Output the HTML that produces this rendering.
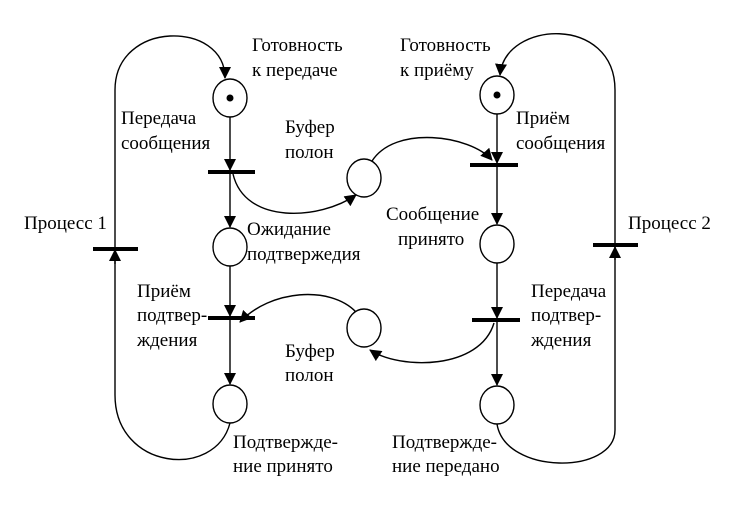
<!DOCTYPE html>
<html><head><meta charset="utf-8"><style>
html,body{margin:0;padding:0;background:#fff;}
svg{display:block}
text{font-family:"Liberation Serif","DejaVu Serif",serif;font-size:19px;fill:#000}
</style></head><body>
<svg width="744" height="519" viewBox="0 0 744 519">
<defs>
<marker id="a" markerWidth="12" markerHeight="12" refX="11" refY="6" orient="auto" markerUnits="userSpaceOnUse"><path d="M0,0 L12,6 L0,12 Z" fill="#000"/></marker>
</defs>
<g fill="none" stroke="#000" stroke-width="1.4">
<ellipse cx="230" cy="98" rx="17" ry="19"/>
<ellipse cx="230" cy="247" rx="17" ry="19"/>
<ellipse cx="230" cy="404" rx="17" ry="19"/>
<line x1="230" y1="117" x2="230" y2="170" marker-end="url(#a)"/>
<line x1="230" y1="172" x2="230" y2="227" marker-end="url(#a)"/>
<line x1="230" y1="266" x2="230" y2="316" marker-end="url(#a)"/>
<line x1="230" y1="318" x2="230" y2="384" marker-end="url(#a)"/>
<ellipse cx="497" cy="95" rx="17" ry="19"/>
<ellipse cx="497" cy="244" rx="17" ry="19"/>
<ellipse cx="497" cy="405" rx="17" ry="19"/>
<line x1="497" y1="114" x2="497" y2="163" marker-end="url(#a)"/>
<line x1="497" y1="165" x2="497" y2="224" marker-end="url(#a)"/>
<line x1="497" y1="263" x2="497" y2="318" marker-end="url(#a)"/>
<line x1="497" y1="320" x2="497" y2="385" marker-end="url(#a)"/>
<ellipse cx="364" cy="178" rx="17" ry="19"/>
<ellipse cx="364" cy="328" rx="17" ry="19"/>
<path d="M115,395 L115,90 C115,20 225,20 225,78" marker-end="url(#a)"/>
<path d="M230,423 C215,480 115,470 115,395"/>
<line x1="115" y1="264" x2="115" y2="250" marker-end="url(#a)"/>
<path d="M497,424 C505,475 615,475 615,430 L615,90 C615,15 505,20 500,75" marker-end="url(#a)"/>
<line x1="615" y1="260" x2="615" y2="247" marker-end="url(#a)"/>
<path d="M233,174 C245,225 320,220 356,195" marker-end="url(#a)"/>
<path d="M372,161 C395,125 470,135 492,160" marker-end="url(#a)"/>
<path d="M494,323 C480,370 400,370 370,350" marker-end="url(#a)"/>
<path d="M356,312 C330,285 270,290 240,322" marker-end="url(#a)"/>
</g>
<g stroke="#000" stroke-width="4">
<line x1="208" y1="172" x2="255" y2="172"/>
<line x1="208" y1="318" x2="255" y2="318"/>
<line x1="470" y1="165" x2="518" y2="165"/>
<line x1="472" y1="320" x2="520" y2="320"/>
<line x1="93" y1="249" x2="138" y2="249"/>
<line x1="593" y1="245" x2="638" y2="245"/>
</g>
<circle cx="230" cy="98" r="3.5"/>
<circle cx="497" cy="95" r="3.5"/>
<text x="252" y="51">Готовность</text>
<text x="252" y="76">к передаче</text>
<text x="400" y="51">Готовность</text>
<text x="400" y="76">к приёму</text>
<text x="121" y="124">Передача</text>
<text x="121" y="149">сообщения</text>
<text x="285" y="133">Буфер</text>
<text x="285" y="158">полон</text>
<text x="516" y="124">Приём</text>
<text x="516" y="149">сообщения</text>
<text x="24" y="229">Процесс 1</text>
<text x="628" y="229">Процесс 2</text>
<text x="247" y="235">Ожидание</text>
<text x="247" y="260">подтвержедия</text>
<text x="386" y="220">Сообщение</text>
<text x="398" y="245">принято</text>
<text x="137" y="297">Приём</text>
<text x="137" y="321">подтвер-</text>
<text x="137" y="346">ждения</text>
<text x="531" y="297">Передача</text>
<text x="531" y="321">подтвер-</text>
<text x="531" y="346">ждения</text>
<text x="285" y="357">Буфер</text>
<text x="285" y="381">полон</text>
<text x="233" y="448">Подтвержде-</text>
<text x="233" y="472">ние принято</text>
<text x="392" y="448">Подтвержде-</text>
<text x="392" y="472">ние передано</text>
</svg>
</body></html>
